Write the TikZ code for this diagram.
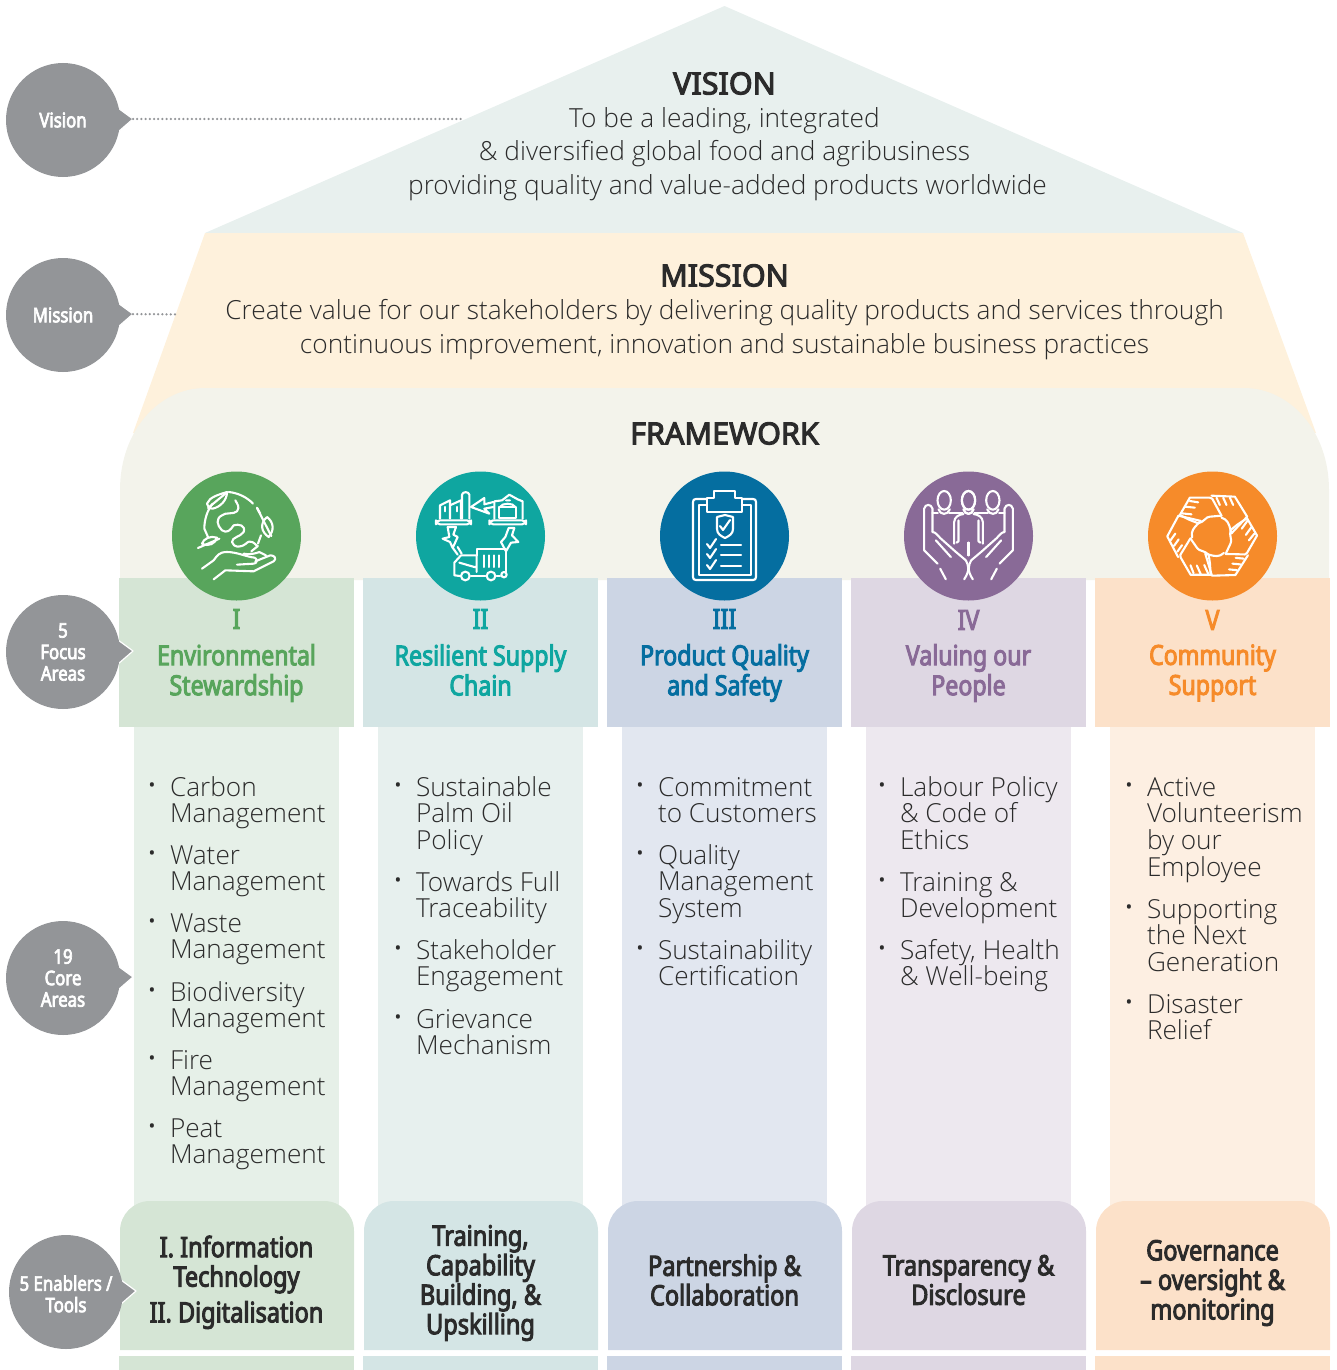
\documentclass[tikz,border=0pt]{standalone}
\usepackage{fontspec}
\setmainfont{Open Sans}
\newfontfamily\lightf{Open Sans Light}
\newfontfamily\condf[FakeStretch=0.84,FakeBold=3.5]{Noto Sans}
\newfontfamily\headf[FakeBold=3.5]{Noto Sans}
\newfontfamily\dotf{Noto Sans}
\newcommand{\nols}{\lineskiplimit=-100pt\relax}
\definecolor{roof}{HTML}{E8F0EE}
\definecolor{mission}{HTML}{FEF1DC}
\definecolor{frame}{HTML}{F3F3EB}
\definecolor{gcirc}{HTML}{939598}
\definecolor{ink}{HTML}{2B2B2B}
\definecolor{ca}{HTML}{58A55C}\definecolor{cb}{HTML}{0FA6A0}\definecolor{cc}{HTML}{056EA0}\definecolor{cd}{HTML}{896A97}\definecolor{ce}{HTML}{F68B2A}
\definecolor{pa}{HTML}{D5E5D5}\definecolor{pb}{HTML}{D4E5E5}\definecolor{pc}{HTML}{CCD5E4}\definecolor{pd}{HTML}{DED7E3}\definecolor{pe}{HTML}{FCE1C9}
\definecolor{la}{HTML}{E6F0E8}\definecolor{lb}{HTML}{E7F0EE}\definecolor{lc}{HTML}{E2E7F0}\definecolor{ld}{HTML}{EDE8EF}\definecolor{le}{HTML}{FDEFE2}
\tikzset{
 gcircle/.style={circle,fill=gcirc,minimum size=114pt,inner sep=0pt,text=white,align=center,font=\condf\fontsize{20}{21.5}\selectfont\nols},
 gtip/.style={fill=gcirc,draw=white,line width=1.2pt,line join=round},
 dotline/.style={draw=gcirc,line width=2.5pt,line cap=round,dash pattern=on 0pt off 4.2pt},
 title/.style={text=ink,font=\headf\fontsize{30.5}{33}\selectfont},
 body/.style={text=ink,align=center,font=\lightf\fontsize{26.3}{33.5}\selectfont\nols},
 focus/.style={align=center,font=\condf\fontsize{27.6}{30}\selectfont\nols},
 enabler/.style={text=ink,align=center,font=\condf\fontsize{28}{29.5}\selectfont\nols},
 listtext/.style={anchor=north west,inner sep=0pt,outer sep=0pt,text=ink,align=left,font=\lightf\fontsize{26.2}{26.8}\selectfont\nols},
 bullettext/.style={inner sep=0pt,text=ink,font=\dotf\fontsize{18}{18}\selectfont},
 icircle/.style={circle,minimum size=129pt,inner sep=0pt},
 ic/.style={draw=white,line width=2.1pt,line cap=round,line join=round},
 zoomed/.style={x=.3333pt,y=-.3333pt},
}
\newcommand{\speech}[5]{% name, x, y, tipname, text
 \coordinate (#4) at (#2+70,#3-1);
 \fill[gtip] (#2+40,#3-24) -- (#2+55,#3-12) -- (#4) -- (#2+55,#3+12) -- (#2+40,#3+24) -- cycle;
 \node[gcircle] (#1) at (#2,#3) {#5};}
\newcommand{\litem}[4]{% name, x, baseline, text
 \node[bullettext] (#1b) at (#2-18,#3-9) {•};
 \node[listtext] (#1) at (#2,#3-24) {\rule{0pt}{24pt}#4};}
\begin{document}
\begin{tikzpicture}[x=1pt,y=-1pt]
\useasboundingbox (0,0) rectangle (1337,1370);
% house
\fill[roof] (724.5,6) -- (1243,233) -- (205,233) -- cycle;
\fill[mission] (205,233) -- (1243,233) -- (1316,433) -- (133,433) -- cycle;
\fill[frame] (120,580) -- (120,490) .. controls (120,430) and (160,388) .. (205,388) -- (1244,388) .. controls (1289,388) and (1329,430) .. (1329,490) -- (1329,580) -- cycle;
% columns
\foreach \i/\pc/\lc in {0/pa/la,1/pb/lb,2/pc/lc,3/pd/ld,4/pe/le}{
 \fill[\lc] (134+244*\i,727) rectangle (339+244*\i,1210);
 \fill[\pc] (119+244*\i,578) rectangle (354+244*\i,727);
 \fill[\pc] (120+244*\i,1350) -- (120+244*\i,1231) arc[start angle=180,end angle=270,radius=30] -- (324+244*\i,1201) arc[start angle=270,end angle=360,radius=30] -- (354+244*\i,1350) -- cycle;
 \fill[\pc] (119+244*\i,1356) rectangle (354+244*\i,1370);
}
% gray speech circles
\speech{svis}{63}{120}{tvis}{Vision}
\speech{smis}{63}{315}{tmis}{Mission}
\speech{sfoc}{63}{652}{tfoc}{5\\Focus\\Areas}
\speech{scor}{63}{978}{tcor}{19\\Core\\Areas}
\speech{sena}{66}{1292}{tena}{\rule{0pt}{19pt}5 Enablers /\\Tools}
\coordinate (evis) at (462,119);
\coordinate (emis) at (176,314.5);
\draw[dotline] (tvis) -- (evis);
\draw[dotline] (tmis) -- (emis);
% titles
\node[title] (tv) at (724.5,83.5) {VISION};
\node[body] (bv) at (724.5,154) {To be a leading, integrated\\\& diversified global food and agribusiness\\\hspace*{6pt}providing quality and value-added products worldwide};
\node[title] (tm) at (724.5,275.5) {MISSION};
\node[body] (bm) at (724.5,329.5) {Create value for our stakeholders by delivering quality products and services through\\continuous improvement, innovation and sustainable business practices};
\node[title] (tf) at (724.5,433.5) {FRAMEWORK};
% icon discs
\node[icircle,fill=ca] (i1) at (236.5,536) {};
\node[icircle,fill=cb] (i2) at (480.5,536) {};
\node[icircle,fill=cc] (i3) at (724.5,536) {};
\node[icircle,fill=cd] (i4) at (968.5,536) {};
\node[icircle,fill=ce] (i5) at (1212.5,536) {};
% icon 1: globe in a hand
\begin{scope}[shift={(172,472)},zoomed,ic]
 \draw (170,60) .. controls (195,62) and (225,75) .. (243,95);
 \draw (255,107) -- (265,125);
 \draw (122,95) .. controls (105,115) and (97,145) .. (97,170) -- (108,195);
 \draw (267,190) -- (258,215);
 \draw (105,95) .. controls (112,75) and (140,68) .. (165,60) .. controls (165,85) and (145,105) .. (122,110) .. controls (112,110) and (106,103) .. (105,95);
 \draw (108,108) -- (160,65);
 \draw (285,135) .. controls (305,150) and (308,175) .. (290,195) .. controls (268,180) and (262,155) .. (285,135);
 \draw (255,108) -- (298,192);
 \draw (90,215) .. controls (95,200) and (115,190) .. (135,197) .. controls (130,215) and (110,225) .. (90,215);
 \draw (78,228) -- (142,200);
 \draw (190,85) .. controls (195,95) and (205,105) .. (195,118) .. controls (185,128) and (160,120) .. (150,130) .. controls (130,140) and (135,160) .. (150,175) .. controls (165,185) and (175,175) .. (185,160) .. controls (200,155) and (222,160) .. (215,180) .. controls (205,195) and (180,195) .. (180,210) .. controls (185,228) and (205,228) .. (222,215) .. controls (235,200) and (250,215) .. (255,222);
 \draw (90,290) -- (125,265) .. controls (135,252) and (140,240) .. (165,240) .. controls (195,240) and (225,255) .. (248,257) .. controls (258,262) and (255,275) .. (245,275) -- (195,278);
 \draw (250,268) -- (295,250) .. controls (308,250) and (315,260) .. (305,268) -- (245,298) -- (160,295) -- (125,322);
 \draw (215,245) .. controls (240,250) and (262,240) .. (262,240) -- (282,250) (238,238) -- (258,222);
\end{scope}
% icon 2: supply chain
\begin{scope}[shift={(416,472)},zoomed,ic]
 \draw[rounded corners=4pt] (60,145) rectangle (165,157);
 \draw (72,140) -- (72,100) -- (102,85) -- (102,140) (102,100) -- (135,85) -- (135,140);
 \draw (138,140) -- (138,68) .. controls (140,58) and (158,58) .. (160,68) -- (160,140);
 \draw (88,105) -- (88,118) (122,105) -- (122,118);
 \draw (232,90) -- (205,97) -- (205,78) -- (165,105) -- (220,125) -- (205,110) -- (232,105);
 \draw[rounded corners=4pt] (220,145) rectangle (330,157);
 \draw (235,140) -- (235,88) -- (258,85) -- (280,68) -- (305,82) -- (320,88) -- (320,140);
 \draw (250,105) rectangle (300,138);
 \draw (252,105) .. controls (258,92) and (292,92) .. (298,105) (270,85) -- (282,85);
 \draw (95,165) -- (120,165) -- (112,188) -- (125,195) -- (110,228) -- (102,210) -- (80,200) -- (100,195) -- cycle;
 \draw (112,230) -- (125,248) (125,225) -- (137,245);
 \draw (278,168) -- (295,168) -- (288,190) -- (307,210) -- (285,212) -- (270,238) -- (255,210) -- (268,195) -- cycle;
 \draw (182,250) -- (182,232) -- (270,232) -- (270,300) (270,232) -- (270,238);
 \foreach \xi in {205,220,235,250}{\draw (\xi,250) -- (\xi,285);}
 \draw (182,250) -- (135,250) -- (115,272) -- (115,310) -- (132,312);
 \draw (130,272) -- (175,285) -- (182,285) (182,250) -- (182,300);
 \draw (165,312) -- (208,312) (242,312) -- (252,312);
 \draw (148,312) circle[radius=13] (225,312) circle[radius=13] (264,308) circle[radius=8];
\end{scope}
% icon 3: clipboard
\begin{scope}[ic]
 \draw (707,499) -- (696,499) .. controls (694,499) and (693,500) .. (693,502) -- (693,577) .. controls (693,579) and (694,580) .. (696,580) -- (753,580) .. controls (755,580) and (756,579) .. (756,577) -- (756,502) .. controls (756,500) and (755,499) .. (753,499) -- (742,499);
 \draw (707,505) -- (699,505) -- (699,575) -- (751,575) -- (751,505) -- (742,505);
 \draw (707,512) -- (707,498) -- (714,498) -- (714,491) -- (735,491) -- (735,498) -- (742,498) -- (742,512) -- cycle;
 \draw (717,517) -- (725,515) -- (733,517) -- (733,529) .. controls (733,534) and (729,536) .. (725,538) .. controls (721,536) and (717,534) .. (717,529) -- cycle;
 \draw (720,526) -- (723,530) -- (730,520);
 \foreach \yy in {545,555,566}{
  \draw (707,\yy-1) -- (710,\yy+3) -- (716,\yy-6);
  \draw (721,\yy) -- (741,\yy);}
\end{scope}
% icon 4: people in hands (mirrored about its axis)
\foreach \m in {1,-1}{
\begin{scope}[shift={(968.5,472)},zoomed,xscale=\m,ic]
 \draw (-73,85) ellipse[x radius=20,y radius=28];
 \draw (0,85) ellipse[x radius=20,y radius=28];
 \draw (-90,112) .. controls (-85,130) and (-62,130) .. (-56,112);
 \draw (-15,112) .. controls (-10,130) and (10,130) .. (15,112);
 \draw (-108,124) -- (-92,124) (-58,124) -- (-18,124);
 \draw (-43,215) -- (-43,150) .. controls (-42,135) and (-30,128) .. (-15,126);
 \draw (-30,145) -- (-30,208) -- (-36,212);
 \draw (0,212) -- (0,250);
 \draw (-133,235) -- (-133,110) .. controls (-130,95) and (-112,95) .. (-108,110) -- (-108,180);
 \draw (-133,235) -- (-93,275) (-85,290) -- (-68,322);
 \draw (-108,180) .. controls (-100,180) and (-92,190) .. (-85,198) -- (-40,238) -- (-8,265) .. controls (0,280) and (5,295) .. (-13,322);
 \draw (-98,205) -- (-53,255);
\end{scope}}
% icon 5: linked hands
\foreach \ang in {0,120,240}{
\begin{scope}[shift={(1212.5,536)},rotate=\ang,zoomed,ic]
 \draw (-98,-63) -- (-68,-115) -- (-8,-115) .. controls (0,-115) and (0,-110) .. (3,-105) -- (27,-61);
 \draw (-98,-63) -- (-68,-48) -- (-43,-38);
 \draw (-43,-38) .. controls (-25,-42) and (-20,-58) .. (-8,-58) -- (27,-61);
 \draw (27,-55) .. controls (45,-50) and (50,-35) .. (54,-18) -- (57,-8);
 \draw (-68,-105) -- (-43,-101) (-83,-88) -- (-53,-85) (-93,-68) -- (-63,-65);
 \draw (-3,-121) -- (67,-118) -- (104,-58) -- (57,-8);
 \draw (12,-115) -- (22,-93) (32,-115) -- (42,-93) (52,-115) -- (62,-93);
\end{scope}}
% focus labels
\node[focus,text=ca] (f1n) at (236.5,619) {I};
\node[focus,text=cb] (f2n) at (480.5,619) {II};
\node[focus,text=cc] (f3n) at (724.5,619) {III};
\node[focus,text=cd] (f4n) at (968.5,620) {IV};
\node[focus,text=ce] (f5n) at (1212.5,620) {V};
\node[focus,text=ca] (f1) at (236.5,673) {Environmental\\Stewardship};
\node[focus,text=cb] (f2) at (480.5,670) {Resilient Supply\\Chain};
\node[focus,text=cc] (f3) at (724.5,673) {Product Quality\\and Safety};
\node[focus,text=cd] (f4) at (968.5,673) {Valuing our\\People};
\node[focus,text=ce] (f5) at (1212.5,673) {Community\\Support};
% lists
\litem{la}{170}{796}{Carbon\\Management}
\litem{lb}{170}{864}{Water\\Management}
\litem{lc}{170}{932}{Waste\\Management}
\litem{ld}{170}{1001}{Biodiversity\\Management}
\litem{le}{170}{1069}{Fire\\Management}
\litem{lf}{170}{1137}{Peat\\Management}
\litem{ma}{416}{796}{Sustainable\\Palm Oil\\Policy}
\litem{mb}{416}{891}{Towards Full\\Traceability}
\litem{mc}{416}{959}{Stakeholder\\Engagement}
\litem{md}{416}{1028}{Grievance\\Mechanism}
\litem{na}{658}{796}{Commitment\\to Customers}
\litem{nb}{658}{864}{Quality\\Management\\System}
\litem{nc}{658}{959}{Sustainability\\Certification}
\litem{oa}{900}{796}{Labour Policy\\\& Code of\\Ethics}
\litem{ob}{900}{891}{Training \&\\Development}
\litem{oc}{900}{959}{Safety, Health\\\& Well-being}
\litem{pa}{1147}{796}{Active\\Volunteerism\\by our\\Employee}
\litem{pb}{1147}{918}{Supporting\\the Next\\Generation}
\litem{pc}{1147}{1013}{Disaster\\Relief}
% enablers
\node[enabler] (e1) at (236.5,1264.5) {I. Information\\Technology};
\node[enabler] (e1b) at (236.5,1315) {II. Digitalisation};
\node[enabler] (e2) at (480.5,1283) {Training,\\Capability\\Building, \&\\Upskilling};
\node[enabler] (e3) at (724.5,1280) {Partnership \&\\Collaboration};
\node[enabler] (e4) at (968.5,1280) {Transparency \&\\Disclosure};
\node[enabler] (e5) at (1212.5,1283) {Governance\\– oversight \&\\monitoring};
\end{tikzpicture}
\end{document}
